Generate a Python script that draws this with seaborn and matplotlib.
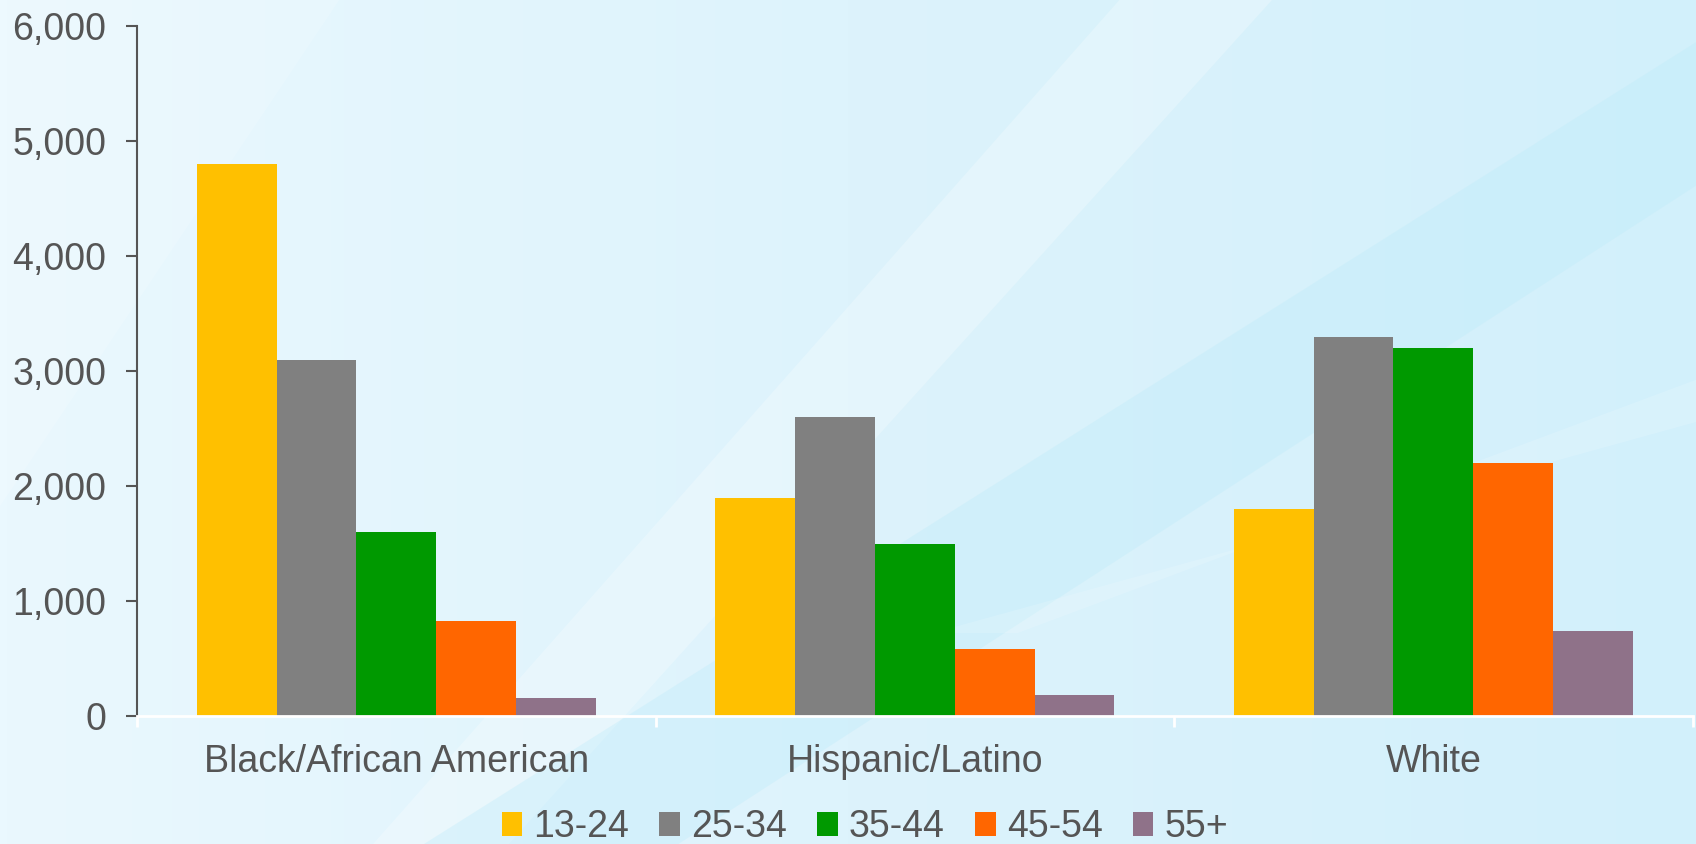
import pandas as pd
import matplotlib.pyplot as plt
import numpy as np
import seaborn as sns
from matplotlib.patches import Patch, Polygon

# data
groups = ['Black/African American', 'Hispanic/Latino', 'White']
ages = ['13-24', '25-34', '35-44', '45-54', '55+']
black = [4800, 3100, 1600, 830, 160]
hispanic = [1900, 2600, 1500, 580, 180]
white = [1800, 3300, 3200, 2200, 740]
colors = ['#FFC000', '#808080', '#009900', '#FF6600', '#8F7289']

rows = []
for g, vals in zip(groups, [black, hispanic, white]):
    for a, v in zip(ages, vals):
        rows.append({'group': g, 'age': a, 'cases': v})
df = pd.DataFrame(rows)

sns.set_style('white')
plt.rcParams['font.family'] = ['Liberation Sans', 'DejaVu Sans']
text_col = '#555555'
fs = 27

fig = plt.figure(figsize=(16.96, 8.44), dpi=100)

# background: soft blue gradient with diagonal light bands
bg = fig.add_axes([0, 0, 1, 1], zorder=0)
grad = np.linspace(0, 1, 256)[None, :]
cmap = sns.blend_palette(['#EAF8FE', '#DDF3FC', '#D2F0FB'], as_cmap=True)
bg.imshow(grad, aspect='auto', cmap=cmap, extent=[0, 1, 0, 1])
bg.add_patch(Polygon([[0.22, 0], [0.30, 0], [0.75, 1], [0.66, 1]], closed=True, color='white', alpha=0.25, lw=0))
bg.add_patch(Polygon([[0.25, 0], [0.40, 0], [1.0, 0.78], [1.0, 0.95]], closed=True, color='#BDEBFA', alpha=0.35, lw=0))
bg.add_patch(Polygon([[0.55, 0.25], [0.60, 0.25], [1.0, 0.55], [1.0, 0.50]], closed=True, color='white', alpha=0.15, lw=0))
bg.add_patch(Polygon([[0.0, 0.4], [0.20, 1.0], [0.0, 1.0]], closed=True, color='white', alpha=0.15, lw=0))
bg.set_xlim(0, 1)
bg.set_ylim(0, 1)
bg.axis('off')

ax = fig.add_axes([0.0808, 0.1517, 0.9172, 0.8173], zorder=1)
ax.patch.set_alpha(0)
sns.barplot(data=df, x='group', y='cases', hue='age', hue_order=ages,
            palette=colors, width=0.77, gap=0, saturation=1,
            edgecolor='none', linewidth=0, ax=ax)

ax.set_ylim(0, 6000)
ax.set_xlim(-0.5, 2.5)
ax.set_yticks(range(0, 6001, 1000))
ax.set_yticklabels([f'{v:,}' for v in range(0, 6001, 1000)])
ax.set_xlabel('')
ax.set_ylabel('')

for s in ['top', 'right']:
    ax.spines[s].set_visible(False)
ax.spines['left'].set_color(text_col)
ax.spines['left'].set_linewidth(1.5)
ax.spines['bottom'].set_color('white')
ax.spines['bottom'].set_linewidth(2)

ax.tick_params(axis='y', direction='out', length=8, width=1.5, color=text_col,
               labelsize=fs, labelcolor=text_col, pad=14, left=True)
ax.tick_params(axis='x', which='major', length=0, labelsize=fs,
               labelcolor=text_col, pad=20)
ax.set_xticks([-0.5, 0.5, 1.5, 2.5], minor=True)
ax.tick_params(axis='x', which='minor', direction='out', length=8, width=2,
               color='white', bottom=True)

ax.legend_.remove()
handles = [Patch(facecolor=c, edgecolor='none', label=a) for c, a in zip(colors, ages)]
fig.legend(handles=handles, loc='center', bbox_to_anchor=(0.51, 0.02), ncol=5,
           frameon=False, fontsize=fs, labelcolor=text_col,
           handlelength=0.55, handleheight=0.6, handletextpad=0.3,
           columnspacing=0.8, borderaxespad=0)

fig.savefig('out.png', dpi=100)
